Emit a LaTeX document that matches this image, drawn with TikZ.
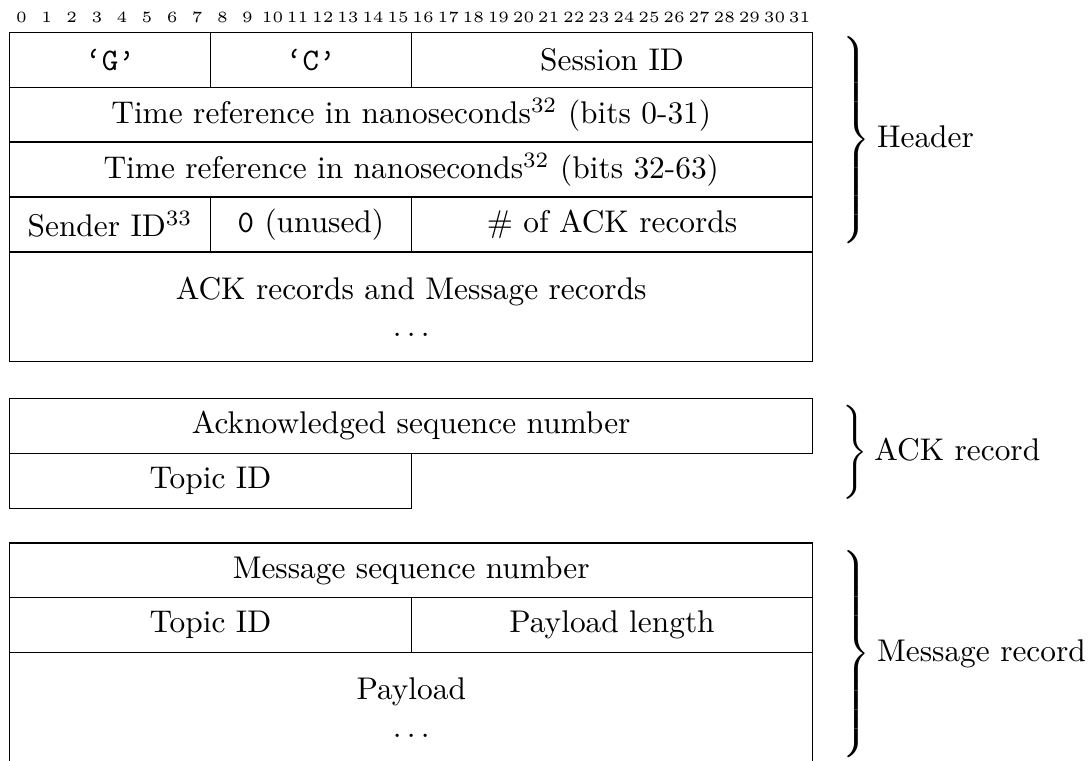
\documentclass[tikz,border=0pt]{standalone}
\usepackage{amsmath,amssymb}
\usepackage{tikz}
\usetikzlibrary{positioning}

% brace on the right of a group of fields
\newcommand{\grpbrace}[2]{$\left.\vcenter{\hrule height #1 width 0pt}\right\}$\kern2pt#2}

\begin{document}
\begin{tikzpicture}[x=8pt, y=-17.5pt,
  field/.style={draw, rectangle, inner sep=0pt, anchor=north west, align=center, minimum width=#1*8pt, minimum height=17.5pt},
  tallfield/.style={field=#1, minimum height=35pt},
  bitnum/.style={font=\tiny, inner sep=0pt},
  grouplabel/.style={anchor=west, inner sep=0pt}]
\useasboundingbox (-0.36,-0.577) rectangle (42.99,13.266);
% bit numbers
\foreach \i in {0,...,31}
  \node[bitnum] (bit\i) at (\i+0.5,-0.268) {\i};
% header
\node[field=8] (magicg) at (0,0) {\texttt{\textquoteleft G\textquoteright}};
\node[field=8] (magicc) at (8,0) {\texttt{\textquoteleft C\textquoteright}};
\node[field=16] (session) at (16,0) {Session ID};
\node[field=32] (timelo) at (0,1) {Time reference in nanoseconds$^{32}$ (bits 0-31)};
\node[field=32] (timehi) at (0,2) {Time reference in nanoseconds$^{32}$ (bits 32-63)};
\node[field=8] (sender) at (0,3) {Sender ID$^{33}$};
\node[field=8] (unused) at (8,3) {\texttt{0} (unused)};
\node[field=16] (numack) at (16,3) {\# of ACK records};
\node[tallfield=32] (records) at (0,4) {ACK records and Message records\\ $\ldots$};
% ACK record
\node[field=32] (ackseq) at (0,6.667) {Acknowledged sequence number};
\node[field=16] (acktopic) at (0,7.667) {Topic ID};
% message record
\node[field=32] (msgseq) at (0,9.3) {Message sequence number};
\node[field=16] (msgtopic) at (0,10.3) {Topic ID};
\node[field=16] (msglen) at (16,10.3) {Payload length};
\node[tallfield=32] (payload) at (0,11.3) {Payload\\ $\ldots$};
% braces
\node[grouplabel] (header) at (33.05,1.97) {\grpbrace{71pt}{Header}};
\node[grouplabel] (ackrec) at (33.05,7.667) {\grpbrace{28pt}{ACK record}};
\node[grouplabel] (msgrec) at (33.05,11.33) {\grpbrace{71pt}{Message record}};
\end{tikzpicture}
\end{document}
